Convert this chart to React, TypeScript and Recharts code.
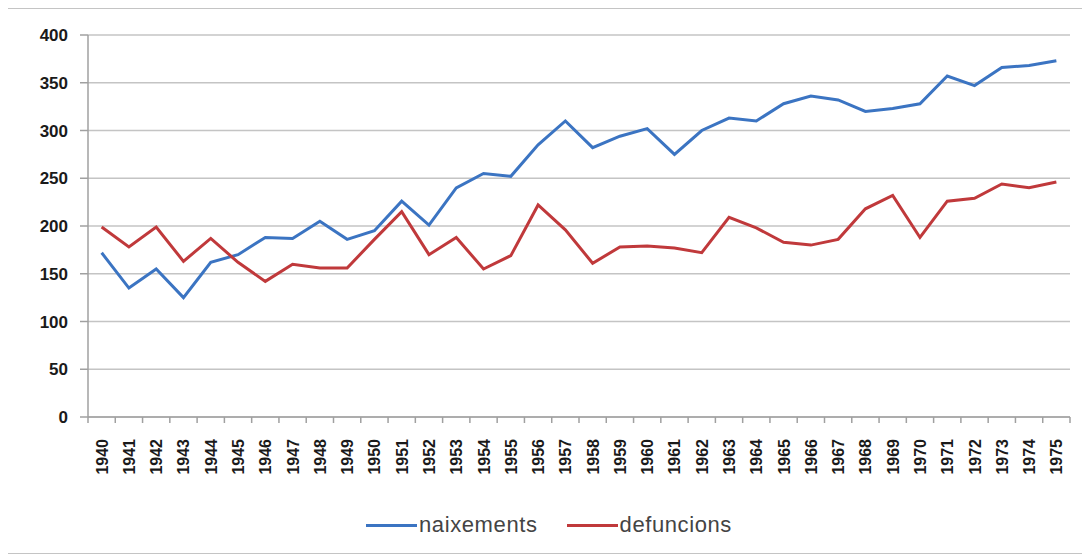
import { LineChart, Line, XAxis, YAxis, CartesianGrid, Legend } from "recharts";

const years = [
  "1940", "1941", "1942", "1943", "1944", "1945", "1946", "1947", "1948", "1949",
  "1950", "1951", "1952", "1953", "1954", "1955", "1956", "1957", "1958", "1959",
  "1960", "1961", "1962", "1963", "1964", "1965", "1966", "1967", "1968", "1969",
  "1970", "1971", "1972", "1973", "1974", "1975",
];

const naixements = [
  172, 135, 155, 125, 162, 170, 188, 187, 205, 186,
  195, 226, 201, 240, 255, 252, 285, 310, 282, 294,
  302, 275, 300, 313, 310, 328, 336, 332, 320, 323,
  328, 357, 347, 366, 368, 373,
];

const defuncions = [
  199, 178, 199, 163, 187, 162, 142, 160, 156, 156,
  186, 215, 170, 188, 155, 169, 222, 196, 161, 178,
  179, 177, 172, 209, 198, 183, 180, 186, 218, 232,
  188, 226, 229, 244, 240, 246,
];

const yTicks = [0, 50, 100, 150, 200, 250, 300, 350, 400];

const series = [
  { key: "naixements", color: "#3b74c2" },
  { key: "defuncions", color: "#c0393b" },
];

const data = years.map((year, i) => ({
  year,
  naixements: naixements[i],
  defuncions: defuncions[i],
}));

const W = 1078;
const H = 540;
const PLOT_LEFT = 80;
const PLOT_RIGHT = 14;
const band = (W - 2 - PLOT_LEFT - PLOT_RIGHT) / years.length;
const FONT = "Liberation Sans, Arial, sans-serif";

// Excel-style ticks: marks sit between categories, label under the centre
function YearTick(props: any) {
  const { x, y, payload, index } = props;
  const last = index === years.length - 1;
  return (
    <g>
      <line x1={x - band / 2} y1={y} x2={x - band / 2} y2={y + 6} stroke="#a0a0a0" strokeWidth={1.5} />
      {last && <line x1={x + band / 2} y1={y} x2={x + band / 2} y2={y + 6} stroke="#a0a0a0" strokeWidth={1.5} />}
      <text
        x={0}
        y={0}
        transform={`translate(${x + 6},${y + 22}) rotate(-90)`}
        textAnchor="end"
        fontSize={16}
        fontWeight="bold"
        fill="#1a1a1a"
        fontFamily={FONT}
      >
        {payload.value}
      </text>
    </g>
  );
}

function LegendBox() {
  return (
    <div style={{ display: "flex", justifyContent: "center", alignItems: "center", height: 30, paddingLeft: 20, fontFamily: FONT, fontSize: 22, letterSpacing: 0.6, color: "#444" }}>
      {series.map((s, i) => (
        <div key={s.key} style={{ display: "flex", alignItems: "center", marginLeft: i === 0 ? 0 : 29 }}>
          <span style={{ display: "inline-block", width: 51, height: 3, background: s.color, marginRight: 2 }} />
          <span>{s.key}</span>
        </div>
      ))}
    </div>
  );
}

export default function App() {
  return (
    <div style={{ width: W, height: H + 6, border: "1px solid #c4c4c4", background: "#fff", boxSizing: "border-box", marginLeft: -1 }}>
      <LineChart width={W - 2} height={H} data={data} margin={{ top: 26, right: PLOT_RIGHT, left: 0, bottom: 9 }}>
        <CartesianGrid vertical={false} stroke="#c4c4c4" strokeWidth={1.5} />
        <XAxis
          dataKey="year"
          interval={0}
          height={93}
          padding={{ left: band / 2, right: band / 2 }}
          tickLine={false}
          tickSize={0}
          tickMargin={0}
          stroke="#a0a0a0"
          strokeWidth={1.5}
          tick={<YearTick />}
        />
        <YAxis
          domain={[0, 400]}
          ticks={yTicks}
          width={PLOT_LEFT}
          tickSize={8}
          tickMargin={12}
          stroke="#a0a0a0"
          strokeWidth={1.5}
          tick={{ fontSize: 17, fontWeight: "bold", fill: "#1a1a1a", fontFamily: FONT }}
        />
        <Legend verticalAlign="bottom" content={<LegendBox />} />
        {series.map((s) => (
          <Line
            key={s.key}
            type="linear"
            dataKey={s.key}
            stroke={s.color}
            strokeWidth={3}
            dot={false}
            isAnimationActive={false}
          />
        ))}
      </LineChart>
    </div>
  );
}
